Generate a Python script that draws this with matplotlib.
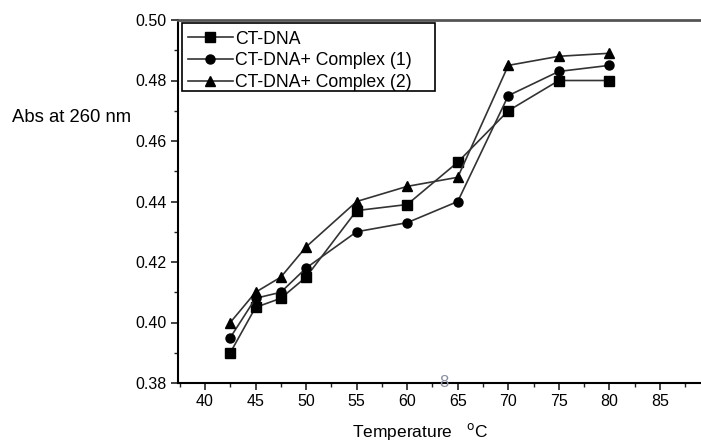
import matplotlib
matplotlib.use("Agg")
import matplotlib.pyplot as plt
from matplotlib.ticker import MultipleLocator
from matplotlib.patches import Rectangle

plt.rcParams['font.family'] = ['Liberation Sans', 'DejaVu Sans']

temps = [42.5, 45, 47.5, 50, 55, 60, 65, 70, 75, 80]
ct_dna = [0.390, 0.405, 0.408, 0.415, 0.437, 0.439, 0.453, 0.470, 0.480, 0.480]
complex1 = [0.395, 0.408, 0.410, 0.418, 0.430, 0.433, 0.440, 0.475, 0.483, 0.485]
complex2 = [0.400, 0.410, 0.415, 0.425, 0.440, 0.445, 0.448, 0.485, 0.488, 0.489]
labels = ['CT-DNA', 'CT-DNA+ Complex (1)', 'CT-DNA+ Complex (2)']
markers = ['s', 'o', '^']

W, H = 701, 441
fig = plt.figure(figsize=(W/100, H/100), dpi=100)
ax = fig.add_axes([178/W, 58/H, 1 - 178/W, (383-20)/H])

for y, lab, m in zip([ct_dna, complex1, complex2], labels, markers):
    ax.plot(temps, y, color='#333333', lw=1.2, marker=m, markersize=6.5,
            markerfacecolor='black', markeredgecolor='black', label=lab)

ax.set_xlim(37.33, 89.06)
ax.set_ylim(0.38, 0.50)
ax.xaxis.set_major_locator(MultipleLocator(5))
ax.xaxis.set_minor_locator(MultipleLocator(2.5))
ax.yaxis.set_major_locator(MultipleLocator(0.02))
ax.yaxis.set_minor_locator(MultipleLocator(0.01))
ax.yaxis.set_major_formatter(matplotlib.ticker.FormatStrFormatter('%.2f'))
ax.tick_params(which='major', direction='out', length=5, width=1.2, labelsize=11.5,
               color='#222222', pad=3)
ax.tick_params(which='minor', direction='out', length=3, width=1.0, color='#222222')
ax.spines['right'].set_visible(False)
ax.spines['left'].set_linewidth(1.5)
ax.spines['bottom'].set_linewidth(1.5)
ax.spines['top'].set_linewidth(2)
ax.spines['top'].set_color('#555555')

leg = ax.legend(loc='upper left', bbox_to_anchor=(6/(W-178), 1 - 7/363), fontsize=12.7,
                frameon=False, handlelength=2.6, handletextpad=0.1, borderpad=0.2,
                labelspacing=0.28, borderaxespad=0)
fig.patches.append(Rectangle((182/W, 1 - 91/H), (435-182)/W, (91-23)/H,
                             transform=fig.transFigure, fill=False,
                             edgecolor='black', linewidth=1.2, zorder=5))

fig.text(12/W, 1 - 118/H, 'Abs at 260 nm', fontsize=13.3, va='center', ha='left')
fig.text(420/W, 1 - 432/H, 'Temperature   $^{\\mathrm{o}}$C', fontsize=12.5, va='center', ha='center')
ax.text(63.6, 0.3803, '8', color='#8a8fa0', fontsize=12, ha='center', va='center',
        clip_on=False, zorder=6)

fig.savefig('out.png', dpi=100)
